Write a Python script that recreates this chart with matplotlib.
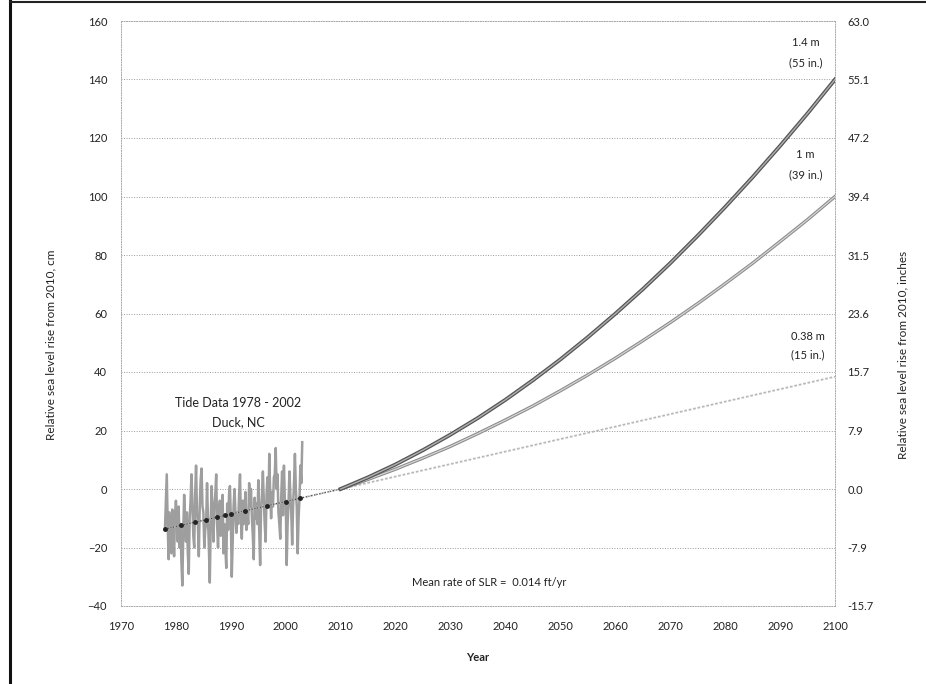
import matplotlib
matplotlib.use("Agg")
import matplotlib.pyplot as plt
from matplotlib.lines import Line2D

plt.rcParams['font.family'] = ['Lato', 'DejaVu Sans']

# Tide gauge record, Duck NC (bi-monthly, cm relative to 2010)
tide_years = [1978 + i / 6 for i in range(151)]
tide_cm = [
    -14, -4, 5, -12, -24, -8,      # 1978
    -15, -22, -7, -14, -23, -9,    # 1979
    -4, -10, -18, -6, -20, -12,    # 1980
    -25, -33, -15, -2, -10, -18,   # 1981
    -8, -22, -29, -10, -4, 5,      # 1982
    -6, -16, -20, -2, 8, -8,       # 1983
    -12, -23, -6, 3, 7, -6,        # 1984
    -8, -20, -14, -12, 2, -10,     # 1985
    -20, -32, -12, 1, -8, -18,     # 1986
    -6, -2, 5, -12, -20, -8,       # 1987
    -4, -16, -10, -2, -22, -12,    # 1988
    -20, -27, -5, -14, -2, 1,      # 1989
    -10, -30, -18, -6, 0, -8,      # 1990
    -15, -8, -12, -2, 5, -10,      # 1991
    -17, -4, -12, -6, -1, -14,     # 1992
    -8, -12, 2, -6, 0, -10,        # 1993
    -16, -24, -3, -10, -5, -12,    # 1994
    3, -14, -26, -6, -2, 6,        # 1995
    -4, -12, -18, -2, 4, -6,       # 1996
    12, -2, -10, -1, -6, 4,        # 1997
    5, 14, 0, 5, -8, -12,          # 1998
    -17, -3, 6, -9, 8, -4,         # 1999
    -4, -26, -12, -5, 6, -2,       # 2000
    -8, -19, -6, 2, 12, 0,         # 2001
    -6, -22, -10, -3, 8, 2,        # 2002
    16,                            # 2003
]

# Linear trend of the record (0.014 ft/yr), extended to 2100
trend_years = [1978, 2010, 2100]
trend_cm = [-13.7, 0.0, 38.4]

# Trend markers over the gauge period
marker_years = [1978, 1981, 1983.5, 1985.5, 1987.5, 1989, 1990, 1992.5, 1996.5, 2000, 2002.5]
marker_cm = [-13.7, -12.4, -11.3, -10.5, -9.6, -9.0, -8.5, -7.5, -5.8, -4.3, -3.2]

# Accelerated projections from 2010
proj_years = list(range(2010, 2101, 5))
slr_140 = [0, 4.0, 8.4, 13.3, 18.6, 24.3, 30.5, 37.2, 44.3, 51.9,
           59.9, 68.3, 77.2, 86.6, 96.4, 106.6, 117.3, 128.4, 140]
slr_100 = [0, 3.3, 6.8, 10.6, 14.6, 19.0, 23.6, 28.4, 33.6, 39.0,
           44.7, 50.7, 56.9, 63.4, 70.2, 77.2, 84.6, 92.1, 100]

x_ticks = list(range(1970, 2101, 10))
y_ticks = list(range(-40, 161, 20))

fig = plt.figure(figsize=(9.26, 6.84), dpi=100)
ax = fig.add_axes([121 / 926, 1 - 606 / 684, 714 / 926, 585 / 684])

ax.set_xlim(1970, 2100)
ax.set_ylim(-40, 160)

dot = (0, (1, 1.6))
for v in y_ticks:
    ax.axhline(v, color='#9a9a9a', lw=0.7, ls=dot, zorder=0)
for s in ax.spines.values():
    s.set_color('#a8a8a8')
    s.set_linestyle(dot)
    s.set_linewidth(0.7)

# gauge record
ax.plot(tide_years, tide_cm, color='#9e9e9e', lw=1.8, zorder=2)
ax.plot(trend_years, trend_cm, color='#b8b8b8', lw=1.3, ls=(0, (1.5, 1)), zorder=3)
ax.plot(trend_years[:2], trend_cm[:2], color='#444444', lw=0.8, ls=(0, (1, 1.5)), zorder=4)
ax.plot(marker_years, marker_cm, ls='none', marker='o', ms=2.5, color='#222222', zorder=5)

# projections
ax.plot(proj_years, slr_100, color='#8a8a8a', lw=2.4, zorder=3)
ax.plot(proj_years, slr_100, color='#d4d4d4', lw=0.9, zorder=3)
ax.plot(proj_years, slr_140, color='#555555', lw=2.8, zorder=4)
ax.plot(proj_years, slr_140, color='#b0b0b0', lw=1.0, zorder=4)

ax.set_xticks(x_ticks)
ax.set_yticks(y_ticks)
ax.tick_params(axis='both', length=0, labelsize=8, colors='#222222')
ax.tick_params(axis='x', pad=11)
ax.tick_params(axis='y', pad=10)

ax.set_xlabel('Year', fontsize=8, fontweight='bold', color='#222222', labelpad=14)
ax.set_ylabel('Relative sea level rise from 2010, cm', fontsize=8.5, color='#222222')
ax.yaxis.set_label_coords(-0.09, 0.446)

ax2 = ax.twinx()
ax2.set_ylim(ax.get_ylim())
ax2.set_yticks(y_ticks)
ax2.set_yticklabels([f"{v / 2.54:.1f}" for v in y_ticks])
ax2.tick_params(axis='y', length=0, labelsize=8, colors='#222222', pad=9)
for s in ax2.spines.values():
    s.set_visible(False)
ax2.set_ylabel('Relative sea level rise from 2010, inches', fontsize=8.5, color='#222222')
ax2.yaxis.set_label_coords(1.087, 0.43)

txt = dict(fontsize=8, color='#222222', ha='center', va='center')
ax.text(1991.3, 29.4, 'Tide Data 1978 - 2002', fontsize=9, color='#222222', ha='center', va='center')
ax.text(1991.3, 22.9, 'Duck, NC', fontsize=9, color='#222222', ha='center', va='center')
ax.text(2037, -32.1, 'Mean rate of SLR =  0.014 ft/yr', **txt)
ax.text(2094.6, 152.5, '1.4 m', **txt)
ax.text(2094.6, 145.6, '(55 in.)', **txt)
ax.text(2094.6, 114.2, '1 m', **txt)
ax.text(2094.6, 107.4, '(39 in.)', **txt)
ax.text(2095, 52.0, '0.38 m', **txt)
ax.text(2095, 45.8, '(15 in.)', **txt)

# page frame
fig.add_artist(Line2D([9.5 / 926, 9.5 / 926], [0, 1], transform=fig.transFigure,
                      color='#111111', lw=2.2))
fig.add_artist(Line2D([9.5 / 926, 1], [1 - 2 / 684, 1 - 2 / 684], transform=fig.transFigure,
                      color='#222222', lw=1.5))

fig.savefig('out.png', dpi=100)
